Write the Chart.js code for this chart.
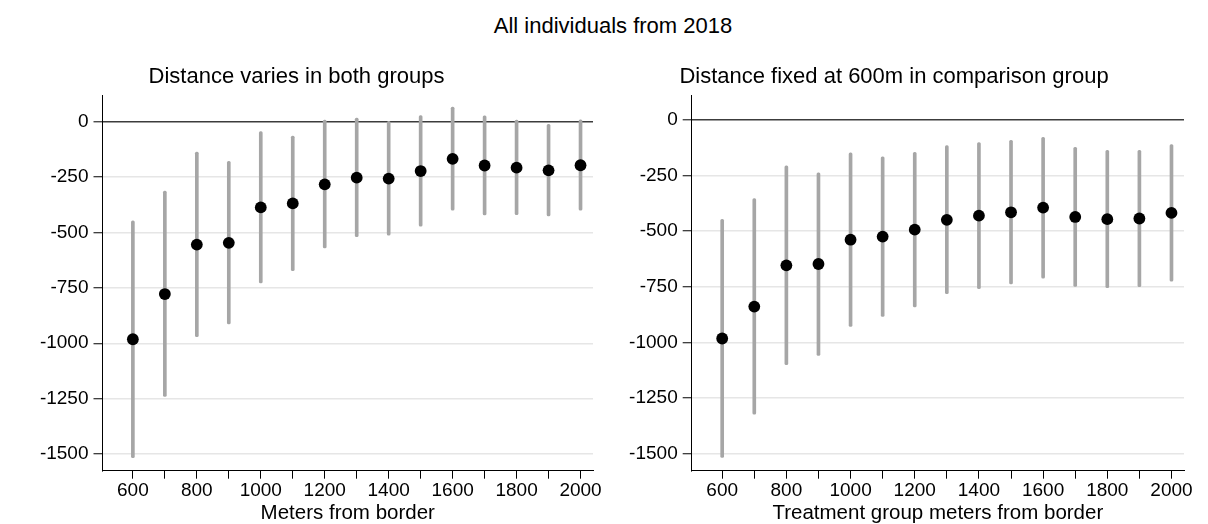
<!DOCTYPE html>
<html>
<head>
<meta charset="utf-8">
<script src="https://cdn.jsdelivr.net/npm/chart.js@4.4.1/dist/chart.umd.min.js"></script>
<style>
  html, body { margin: 0; padding: 0; background: #fff; }
  #wrap { position: relative; width: 1208px; height: 524px; overflow: hidden;
          font-family: "Liberation Sans", Arial, sans-serif; }
  #mainTitle { position: absolute; top: 13px; left: 613px; transform: translateX(-50%);
               white-space: nowrap; font-size: 22px; line-height: 26px; color: #000; }
  canvas { position: absolute; top: 0; }
  #left { left: 0; }
  #right { left: 604px; }
</style>
</head>
<body>
<div id="wrap">
  <div id="mainTitle">All individuals from 2018</div>
  <canvas id="left" width="604" height="524"></canvas>
  <canvas id="right" width="604" height="524"></canvas>
</div>
<script>
// Distance bins (metres from the border)
const meters = [600, 700, 800, 900, 1000, 1100, 1200, 1300, 1400, 1500, 1600, 1700, 1800, 1900, 2000];

// Panel 1: distance varies in both groups
const bothEst   = [-982, -778, -555, -547, -387, -369, -283, -253, -257, -223, -168, -198, -208, -220, -197];
const bothLower = [-1516, -1240, -970, -913, -728, -673, -570, -519, -512, -472, -400, -421, -420, -426, -400];
const bothUpper = [-448, -314, -138, -179, -45, -65, 7, 16, 1, 27, 65, 26, 7, -12, 8];

// Panel 2: distance fixed at 600m in the comparison group
const fixedEst   = [-982, -839, -654, -648, -539, -525, -494, -450, -431, -416, -395, -437, -447, -444, -419];
const fixedLower = [-1516, -1322, -1100, -1058, -928, -883, -841, -781, -759, -737, -711, -748, -754, -750, -725];
const fixedUpper = [-448, -355, -208, -239, -149, -167, -147, -117, -103, -93, -80, -125, -138, -138, -112];

// Axis ticks
const xTickValues  = [600, 700, 800, 900, 1000, 1100, 1200, 1300, 1400, 1500, 1600, 1700, 1800, 1900, 2000];
const xTickLabels  = [600, 800, 1000, 1200, 1400, 1600, 1800, 2000];
const yTickValues  = [0, -250, -500, -750, -1000, -1250, -1500];

const FONT = '"Liberation Sans", Arial, sans-serif';

function makePanel(canvasId, cfg) {
  const points = meters.map((m, i) => ({ x: m, y: cfg.est[i] }));
  const intervals = meters.map((m, i) => ({ x: m, y: [cfg.lower[i], cfg.upper[i]] }));

  return new Chart(document.getElementById(canvasId), {
    type: 'bar',
    data: {
      datasets: [
        {
          type: 'scatter',
          data: points,
          backgroundColor: '#000',
          borderColor: '#000',
          borderWidth: 0,
          pointRadius: 5.9,
          order: 0
        },
        {
          type: 'bar',
          data: intervals,
          backgroundColor: '#a6a6a6',
          borderWidth: 0,
          barThickness: 3,
          borderRadius: 1.5,
          borderSkipped: false,
          order: 1
        }
      ]
    },
    options: {
      responsive: false,
      animation: false,
      events: [],
      devicePixelRatio: 1,
      layout: { padding: { top: 64, right: cfg.padRight, bottom: 0, left: 0 } },
      plugins: {
        legend: { display: false },
        tooltip: { enabled: false },
        title: {
          display: true,
          text: cfg.title,
          color: '#000',
          font: { family: FONT, size: 22, weight: 'normal', lineHeight: 1.2 },
          padding: { top: 0, bottom: 4.6 }
        }
      },
      scales: {
        x: {
          type: 'linear',
          offset: false,
          min: 505,
          max: 2039,
          afterFit: s => { s.height = 53.3; },
          afterBuildTicks: s => { s.ticks = xTickValues.map(v => ({ value: v })); },
          grid: {
            offset: false,
            drawOnChartArea: false,
            drawTicks: true,
            tickLength: 8,
            tickColor: '#000',
            tickWidth: 1
          },
          border: { display: true, color: '#000', width: 1 },
          ticks: {
            autoSkip: false,
            maxRotation: 0,
            padding: 1,
            color: '#000',
            font: { family: FONT, size: 19 },
            callback: v => (xTickLabels.includes(v) ? String(v) : '')
          },
          title: {
            display: true,
            text: cfg.xTitle,
            color: '#000',
            font: { family: FONT, size: 20.5, lineHeight: 1 },
            padding: { top: 0, bottom: 0.5 }
          }
        },
        y: {
          type: 'linear',
          min: -1575,
          max: cfg.yMax,
          afterFit: s => { s.width = cfg.yWidth; },
          afterBuildTicks: s => { s.ticks = yTickValues.map(v => ({ value: v })); },
          grid: {
            color: ctx => (ctx.tick && ctx.tick.value === 0 ? '#3c3c3c' : '#e6e6e6'),
            lineWidth: ctx => (ctx.tick && ctx.tick.value === 0 ? 1.6 : 1.5),
            drawTicks: true,
            tickLength: 9,
            tickColor: '#000',
            tickWidth: 1
          },
          border: { display: true, color: '#000', width: 1 },
          ticks: {
            padding: 5,
            color: '#000',
            font: { family: FONT, size: 19 },
            callback: v => String(v)
          }
        }
      }
    }
  });
}

makePanel('left', {
  title: 'Distance varies in both groups',
  xTitle: 'Meters from border',
  est: bothEst, lower: bothLower, upper: bothUpper,
  yWidth: 102.5, padRight: 11, yMax: 120
});

makePanel('right', {
  title: 'Distance fixed at 600m in comparison group',
  xTitle: 'Treatment group meters from border',
  est: fixedEst, lower: fixedLower, upper: fixedUpper,
  yWidth: 87.7, padRight: 24, yMax: 110
});
</script>
</body>
</html>
